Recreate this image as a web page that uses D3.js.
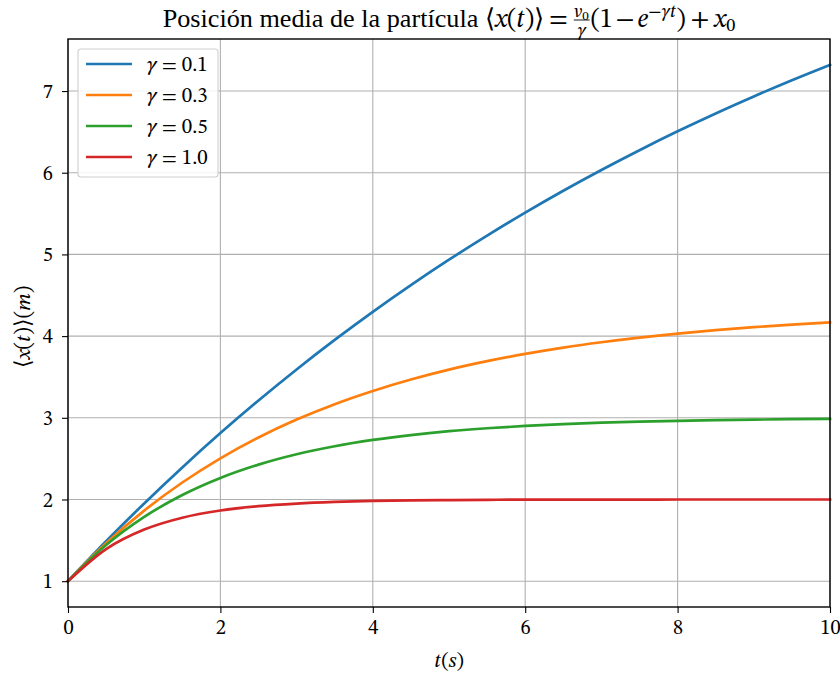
<!DOCTYPE html>
<html>
<head>
<meta charset="utf-8">
<script src="https://cdn.jsdelivr.net/npm/d3@7"></script>
<style>
  html, body { margin: 0; padding: 0; background: #fff; }
  svg { display: block; }
</style>
</head>
<body>
<svg id="chart" width="840" height="677"></svg>
<script>
// Sample times (s)
const times = [0, 0.5, 1, 1.5, 2, 2.5, 3, 3.5, 4, 4.5, 5, 5.5, 6, 6.5, 7, 7.5, 8, 8.5, 9, 9.5, 10];

// Mean position <x(t)> (m) for each damping coefficient
const gammas = ["0.1", "0.3", "0.5", "1.0"];
const pos01 = [1.000, 1.488, 1.952, 2.393, 2.813, 3.212, 3.592, 3.953, 4.297, 4.624, 4.935, 5.230, 5.512, 5.780, 6.034, 6.276, 6.507, 6.726, 6.934, 7.133, 7.321];
const pos03 = [1.000, 1.464, 1.864, 2.208, 2.504, 2.759, 2.978, 3.167, 3.329, 3.469, 3.590, 3.693, 3.782, 3.859, 3.925, 3.982, 4.031, 4.073, 4.109, 4.141, 4.167];
const pos05 = [1.000, 1.442, 1.787, 2.055, 2.264, 2.427, 2.554, 2.652, 2.729, 2.789, 2.836, 2.872, 2.900, 2.922, 2.940, 2.953, 2.963, 2.971, 2.978, 2.983, 2.987];
const pos10 = [1.000, 1.393, 1.632, 1.777, 1.865, 1.918, 1.950, 1.970, 1.982, 1.989, 1.993, 1.996, 1.998, 1.998, 1.999, 1.999, 2.000, 2.000, 2.000, 2.000, 2.000];
const seriesValues = [pos01, pos03, pos05, pos10];
const colors = ["#1f77b4", "#ff7f0e", "#2ca02c", "#d62728"];

const xTicks = [0, 2, 4, 6, 8, 10];
const yTicks = [1, 2, 3, 4, 5, 6, 7];

const FONT = '"STIX Two Text", "Liberation Serif", "Times New Roman", serif';
const TEXT_FONT = '"Liberation Serif", "Times New Roman", serif';

const svg = d3.select("#chart");
const plot = { left: 68, right: 830, top: 39, bottom: 607 };

const x = d3.scaleLinear().domain([0, 10]).range([plot.left, plot.right]);
const yMin = d3.min(seriesValues.flat()), yMax = d3.max(seriesValues.flat());
const pad = (yMax - yMin) * 0.05;
const y = d3.scaleLinear().domain([yMin - pad, yMax + pad]).range([plot.bottom, plot.top]);

// Grid
const grid = svg.append("g");
grid.selectAll(".gx").data(xTicks).join("line")
  .attr("x1", d => x(d)).attr("x2", d => x(d))
  .attr("y1", plot.top).attr("y2", plot.bottom)
  .attr("stroke", "#b0b0b0").attr("stroke-width", 1.1);
grid.selectAll(".gy").data(yTicks).join("line")
  .attr("x1", plot.left).attr("x2", plot.right)
  .attr("y1", d => y(d)).attr("y2", d => y(d))
  .attr("stroke", "#b0b0b0").attr("stroke-width", 1.1);

// Curves
const line = d3.line().x(d => x(d[0])).y(d => y(d[1])).curve(d3.curveMonotoneX);
seriesValues.forEach((vals, i) => {
  svg.append("path")
    .datum(times.map((t, j) => [t, vals[j]]))
    .attr("d", line)
    .attr("fill", "none")
    .attr("stroke", colors[i])
    .attr("stroke-width", 2.7)
    .attr("stroke-linecap", "square");
});

// Axes
const xAxis = d3.axisBottom(x).tickValues(xTicks).tickFormat(d3.format("d")).tickSize(6).tickPadding(6);
const yAxis = d3.axisLeft(y).tickValues(yTicks).tickFormat(d3.format("d")).tickSize(6).tickPadding(9);
const gx = svg.append("g").attr("transform", `translate(0,${plot.bottom})`).call(xAxis);
const gy = svg.append("g").attr("transform", `translate(${plot.left},0)`).call(yAxis);
[gx, gy].forEach(g => {
  g.select(".domain").remove();
  g.selectAll(".tick line").attr("stroke", "#000").attr("stroke-width", 1.1);
  g.selectAll(".tick text").style("font-family", FONT).attr("font-size", 20.5).attr("fill", "#000");
});

// Frame
svg.append("rect")
  .attr("x", plot.left).attr("y", plot.top)
  .attr("width", plot.right - plot.left).attr("height", plot.bottom - plot.top)
  .attr("fill", "none").attr("stroke", "#000").attr("stroke-width", 1.4);

// Legend
const lg = svg.append("g");
lg.append("rect")
  .attr("x", 78).attr("y", 49).attr("width", 140).attr("height", 128)
  .attr("rx", 3).attr("fill", "#fff").attr("fill-opacity", 0.85)
  .attr("stroke", "#d0d0d0").attr("stroke-width", 1.1);
gammas.forEach((g, i) => {
  const cy = 64 + i * 31;
  lg.append("line").attr("x1", 86).attr("x2", 132).attr("y1", cy).attr("y2", cy)
    .attr("stroke", colors[i]).attr("stroke-width", 2.7);
  const t = lg.append("text").attr("x", 147).attr("y", cy + 7)
    .style("font-family", FONT).attr("font-size", 21).attr("fill", "#000");
  t.append("tspan").attr("font-style", "italic").text("γ");
  t.append("tspan").text(" = " + g);
});

// Rich text helper: segments laid out left to right and centred on cx
function richText(parent, cx, baseline, segs, size) {
  const g = parent.append("g").style("font-family", FONT);
  let cursor = 0;
  segs.forEach(s => {
    cursor += (s.before || 0);
    if (s.frac) {
      // stacked numerator / denominator
      const nt = g.append("text").attr("y", baseline - 10).attr("font-size", size * 0.7);
      nt.append("tspan").attr("font-style", "italic").text("v");
      nt.append("tspan").attr("font-size", size * 0.5).attr("dy", 3).text("0");
      const nw = nt.node().getBBox().width;
      const dt = g.append("text").attr("y", baseline + 9).attr("font-size", size * 0.7)
        .attr("font-style", "italic").text("γ");
      const dw = dt.node().getComputedTextLength();
      const fw = Math.max(nw, dw) + 3;
      nt.attr("x", cursor + (fw - nw) / 2);
      dt.attr("x", cursor + (fw - dw) / 2);
      g.append("line").attr("x1", cursor + 1).attr("x2", cursor + fw - 1)
        .attr("y1", baseline - 7).attr("y2", baseline - 7)
        .attr("stroke", "#000").attr("stroke-width", 0.9);
      cursor += fw + (s.after || 0);
      return;
    }
    const fs = size * (s.scale || 1);
    const t = g.append("text")
      .attr("x", cursor).attr("y", baseline + (s.dy || 0))
      .attr("font-size", fs)
      .attr("font-style", s.italic ? "italic" : "normal")
      .text(s.text);
    if (s.plain) t.style("font-family", TEXT_FONT);
    cursor += t.node().getComputedTextLength() + (s.after || 0);
  });
  g.attr("transform", `translate(${cx - cursor / 2},0)`);
  return g;
}

// Title
richText(svg, 449, 27, [
  { text: "Posición media de la partícula", plain: true, after: 7 },
  { text: "⟨" },
  { text: "x", italic: true },
  { text: "(" },
  { text: "t", italic: true, after: 1 },
  { text: ")⟩", after: 5 },
  { text: "=", after: 5 },
  { frac: true, text: "" },
  { text: "(1", after: 3 },
  { text: "−", after: 3 },
  { text: "e", italic: true },
  { text: "−γt", italic: true, scale: 0.7, dy: -10, after: 1 },
  { text: ")", after: 5 },
  { text: "+", after: 5 },
  { text: "x", italic: true },
  { text: "0", scale: 0.7, dy: 4 }
], 26.2);

// X label
richText(svg, 449, 667, [
  { text: "t", italic: true, after: 1 },
  { text: "(" },
  { text: "s", italic: true },
  { text: ")" }
], 21);

// Y label (rotated)
const yl = svg.append("g").attr("transform", "translate(30,327) rotate(-90)");
richText(yl, 0, 0, [
  { text: "⟨" },
  { text: "x", italic: true },
  { text: "(" },
  { text: "t", italic: true, after: 1 },
  { text: ")⟩(" },
  { text: "m", italic: true },
  { text: ")" }
], 21.5);
</script>
</body>
</html>
